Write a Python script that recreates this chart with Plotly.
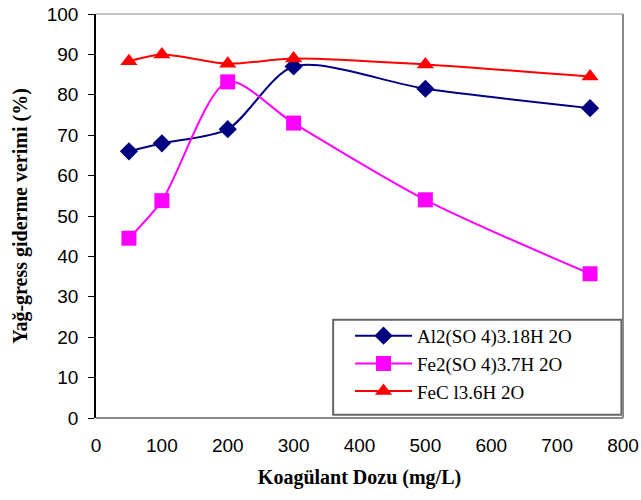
import plotly.graph_objects as go

doses = [50, 100, 200, 300, 500, 750]
al2so4 = [66.0, 68.0, 71.5, 87.0, 81.5, 76.7]
fe2so4 = [44.5, 53.8, 83.2, 73.0, 54.0, 35.7]
fecl3 = [88.3, 90.0, 87.7, 89.0, 87.5, 84.5]

names = ["Al2(SO 4)3.18H 2O", "Fe2(SO 4)3.7H 2O", "FeC l3.6H 2O"]
colors = ["#000080", "#FF00FF", "#FF0000"]
symbols = ["diamond", "square", "triangle-up"]
series = [al2so4, fe2so4, fecl3]

fig = go.Figure()
for name, col, sym, vals in zip(names, colors, symbols, series):
    fig.add_trace(go.Scatter(
        x=doses, y=vals, name=name, mode="lines+markers",
        line=dict(color=col, width=2, shape="spline", smoothing=0.8),
        marker=dict(symbol=sym, size=15 if sym != "diamond" else 14, color=col),
    ))

fig.update_layout(
    width=641, height=500,
    margin=dict(l=96, r=18, t=14, b=82),
    paper_bgcolor="white", plot_bgcolor="white",
    showlegend=True,
    legend=dict(
        x=0.482, y=0.134, xanchor="left", yanchor="middle",
        font=dict(family="Liberation Serif", size=19, color="black"),
        borderwidth=0, bgcolor="rgba(0,0,0,0)",
        tracegroupgap=0, itemwidth=57,
    ),
    xaxis=dict(
        range=[0, 800], dtick=100, showgrid=False, zeroline=False,
        showline=False, ticks="", ticklabelstandoff=14, automargin=False,
        tickfont=dict(family="Liberation Sans", size=19, color="black"),
        title=dict(text="<b>Koagülant Dozu (mg/L)</b>",
                   font=dict(family="Liberation Serif", size=20, color="black"),
                   standoff=14),
    ),
    yaxis=dict(
        range=[0, 100], dtick=10, showgrid=False, zeroline=False,
        showline=True, linecolor="black", linewidth=1.5, automargin=False,
        ticks="outside", ticklen=6, tickcolor="black", ticklabelstandoff=6,
        tickfont=dict(family="Liberation Sans", size=19, color="black"),
        title=dict(text="<b>Yağ-gress giderme verimi (%)</b>",
                   font=dict(family="Liberation Serif", size=20, color="black"),
                   standoff=14),
    ),
)

# plot area border (right & bottom gray)
fig.add_shape(type="line", xref="paper", yref="paper", x0=0, x1=1, y0=1, y1=1,
              line=dict(color="#888888", width=1))
fig.add_shape(type="line", xref="paper", yref="paper", x0=1, x1=1, y0=0, y1=1,
              line=dict(color="#888888", width=2))
fig.add_shape(type="line", xref="paper", yref="paper", x0=0, x1=1, y0=0, y1=0,
              line=dict(color="#888888", width=2))
# legend box
fig.add_shape(type="rect", xref="paper", yref="paper", x0=0.450, x1=0.997,
              y0=0.008, y1=0.243, layer="below", fillcolor="white",
              line=dict(color="#666666", width=2))

fig.write_html("out.html")
